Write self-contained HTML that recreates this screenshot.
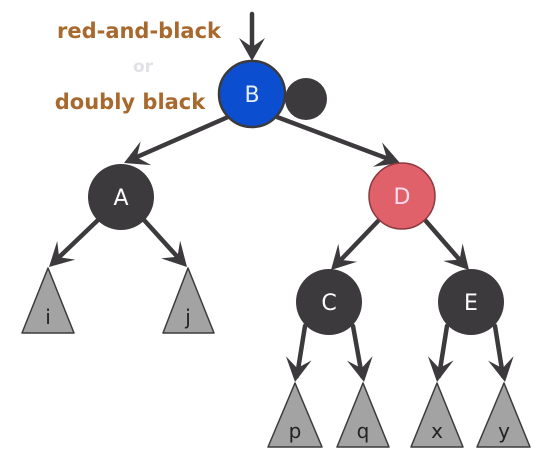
<!DOCTYPE html>
<html><head><style>
html,body{margin:0;padding:0;background:#fff;}
svg{display:block;}
text{font-family:"DejaVu Sans","Liberation Sans",sans-serif;}
</style></head><body>
<svg width="542" height="460" viewBox="0 0 542 460" xmlns="http://www.w3.org/2000/svg">
<g fill="none" stroke="#3c3a3d" stroke-width="4.5" stroke-linecap="round">
<line x1="252" y1="14" x2="252" y2="56"/>
<line x1="228" y1="117" x2="130" y2="160"/>
<line x1="277" y1="117" x2="394" y2="161"/>
<line x1="98" y1="220" x2="53" y2="263"/>
<line x1="144" y1="220" x2="183" y2="263"/>
<line x1="379" y1="220" x2="335" y2="266"/>
<line x1="425" y1="220" x2="465" y2="266"/>
<line x1="305" y1="326" x2="297" y2="376"/>
<line x1="353" y1="326" x2="362" y2="376"/>
<line x1="447" y1="326" x2="439" y2="376"/>
<line x1="495" y1="326" x2="503" y2="376"/>
</g>
<g fill="#3c3a3d">
<polygon points="252,61 239,38 252,47 265,38"/>
<g transform="translate(124,163) rotate(156)"><polygon points="0,0 -24,-13 -14,0 -24,13"/></g>
<g transform="translate(400,163) rotate(20.5)"><polygon points="0,0 -24,-13 -14,0 -24,13"/></g>
<g transform="translate(49,267) rotate(136)"><polygon points="0,0 -24,-13 -14,0 -24,13"/></g>
<g transform="translate(187,267) rotate(47)"><polygon points="0,0 -24,-13 -14,0 -24,13"/></g>
<g transform="translate(331,270) rotate(134)"><polygon points="0,0 -24,-13 -14,0 -24,13"/></g>
<g transform="translate(469,270) rotate(48)"><polygon points="0,0 -24,-13 -14,0 -24,13"/></g>
<g transform="translate(295,382) rotate(99)"><polygon points="0,0 -24,-13 -14,0 -24,13"/></g>
<g transform="translate(364,382) rotate(80)"><polygon points="0,0 -24,-13 -14,0 -24,13"/></g>
<g transform="translate(437,382) rotate(99)"><polygon points="0,0 -24,-13 -14,0 -24,13"/></g>
<g transform="translate(505,382) rotate(80)"><polygon points="0,0 -24,-13 -14,0 -24,13"/></g>
</g>
<g fill="#a3a3a3" stroke="#3c3a3d" stroke-width="1.5" stroke-linejoin="round">
<polygon points="48,268 22,333 74,333"/>
<polygon points="188,268 163,333 214,333"/>
<polygon points="295,383 268,447 322,447"/>
<polygon points="363,383 337,447 389,447"/>
<polygon points="437,383 411,447 463,447"/>
<polygon points="504,383 477,447 530,447"/>
</g>
<circle cx="306" cy="99" r="21" fill="#3c3a3d"/>
<circle cx="252" cy="94" r="33" fill="#0b4fd0" stroke="#3c3a3d" stroke-width="2.5"/>
<circle cx="121" cy="197" r="33" fill="#3c3a3d"/>
<circle cx="402" cy="196" r="33" fill="#e0616a" stroke="#8a3a3f" stroke-width="1.5"/>
<circle cx="329" cy="302" r="33" fill="#3c3a3d"/>
<circle cx="471" cy="302" r="33" fill="#3c3a3d"/>
<g font-size="22" text-anchor="middle" fill="#fff">
<text x="252" y="102" fill="#e6eeff">B</text>
<text x="121" y="205">A</text>
<text x="402" y="204" fill="#fde">D</text>
<text x="329" y="310">C</text>
<text x="471" y="310">E</text>
</g>
<g font-size="20" text-anchor="middle" fill="#222">
<text x="48" y="324">i</text>
<text x="188" y="324">j</text>
<text x="295" y="438">p</text>
<text x="363" y="438">q</text>
<text x="437" y="438">x</text>
<text x="504" y="438">y</text>
</g>
<text x="139" y="38" font-size="21" font-weight="bold" fill="#a8692e" text-anchor="middle">red-and-black</text>
<text x="143" y="72" font-size="17" font-weight="bold" fill="#e2e2e6" text-anchor="middle">or</text>
<text x="130" y="109" font-size="21" font-weight="bold" fill="#a8692e" text-anchor="middle">doubly black</text>
</svg>
</body></html>
